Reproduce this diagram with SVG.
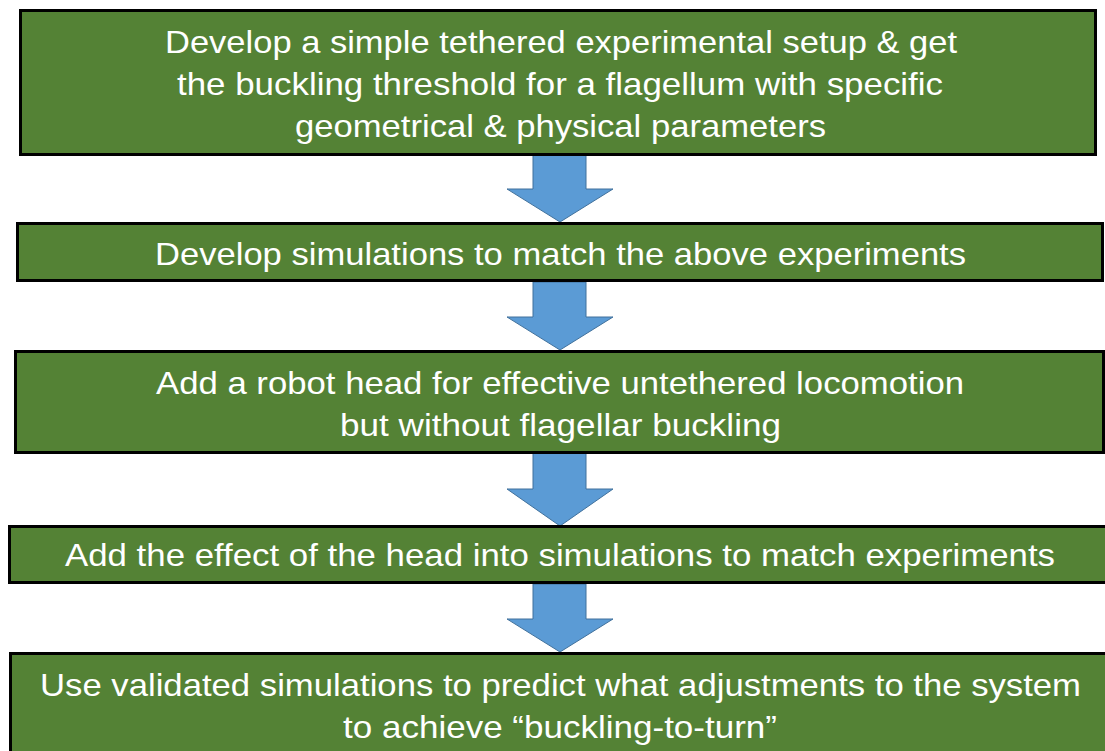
<svg xmlns="http://www.w3.org/2000/svg" width="1105" height="751" viewBox="0 0 1105 751">
  <defs>
    <style>
      .box { fill: #548235; stroke: #000000; stroke-width: 3; }
      .lbl { fill: #ffffff; font-family: "Liberation Sans", Arial, sans-serif; font-size: 32px; text-anchor: middle; }
      .arrow { fill: #5B9BD5; stroke: #41719C; stroke-width: 1; }
    </style>
  </defs>
  <rect width="1105" height="751" fill="#ffffff"/>

  <!-- block arrows between steps -->
  <g id="connectors">
    <path class="arrow" d="M533,153 H586 V189 H613 L560,222 L507,189 H533 Z"/>
    <path class="arrow" d="M533,282 H586 V317 H613 L560,350 L507,317 H533 Z"/>
    <path class="arrow" d="M533,453 H586 V489 H613 L560,526 L507,489 H533 Z"/>
    <path class="arrow" d="M533,584 H586 V619 H613 L560,652 L507,619 H533 Z"/>
  </g>

  <g id="step1">
    <rect class="box" x="20.5" y="10.5" width="1075" height="144"/>
    <text class="lbl" x="561" y="53" textLength="792" lengthAdjust="spacingAndGlyphs">Develop a simple tethered experimental setup &amp; get</text>
    <text class="lbl" x="560" y="95" textLength="766" lengthAdjust="spacingAndGlyphs">the buckling threshold for a flagellum with specific</text>
    <text class="lbl" x="560.5" y="137" textLength="531" lengthAdjust="spacingAndGlyphs">geometrical &amp; physical parameters</text>
  </g>

  <g id="step2">
    <rect class="box" x="17.5" y="223.5" width="1085" height="57"/>
    <text class="lbl" x="560.5" y="265" textLength="811" lengthAdjust="spacingAndGlyphs">Develop simulations to match the above experiments</text>
  </g>

  <g id="step3">
    <rect class="box" x="15.5" y="351.5" width="1088" height="101"/>
    <text class="lbl" x="560" y="394" textLength="808" lengthAdjust="spacingAndGlyphs">Add a robot head for effective untethered locomotion</text>
    <text class="lbl" x="560.5" y="436" textLength="441" lengthAdjust="spacingAndGlyphs">but without flagellar buckling</text>
  </g>

  <g id="step4">
    <rect class="box" x="9.5" y="526.5" width="1100" height="56"/>
    <text class="lbl" x="560" y="566" textLength="990" lengthAdjust="spacingAndGlyphs">Add the effect of the head into simulations to match experiments</text>
  </g>

  <g id="step5">
    <rect class="box" x="10.5" y="653.5" width="1100" height="110"/>
    <text class="lbl" x="560.5" y="696" textLength="1041" lengthAdjust="spacingAndGlyphs">Use validated simulations to predict what adjustments to the system</text>
    <text class="lbl" x="560" y="738" textLength="434" lengthAdjust="spacingAndGlyphs">to achieve “buckling-to-turn”</text>
  </g>
</svg>
